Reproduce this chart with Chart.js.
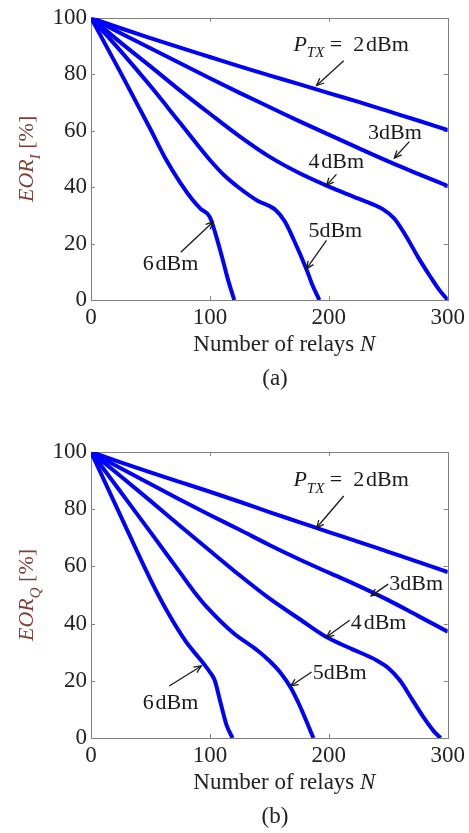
<!DOCTYPE html>
<html>
<head>
<meta charset="utf-8">
<script src="https://cdn.jsdelivr.net/npm/chart.js@4.4.1/dist/chart.umd.min.js"></script>
<style>
  html, body { margin: 0; padding: 0; background: #fff; }
  #wrap { position: relative; width: 469px; height: 833px; }
  canvas { position: absolute; left: 0; }
</style>
</head>
<body>
<div id="wrap">
  <canvas id="panelI" width="469" height="400" style="top:0"></canvas>
  <canvas id="panelQ" width="469" height="413" style="top:420px"></canvas>
</div>
<script>
// ---- Panel (a): EOR_I versus number of relays ----
const nI2   = [0, 25, 50, 75, 100, 125, 150, 175, 200, 225, 250, 275, 300];
const eorI2 = [100, 96.3, 92.8, 89.4, 86.1, 82.8, 79.6, 76.5, 73.3, 70.2, 66.9, 63.6, 60.2];
const nI3   = [0, 25, 50, 75, 100, 125, 150, 175, 200, 225, 250, 275, 300];
const eorI3 = [100, 94.5, 89.2, 83.9, 78.6, 73.4, 68.4, 63.4, 58.6, 53.8, 49.1, 44.7, 40.4];
const nI4   = [0, 25, 50, 75, 100, 125, 150, 175, 200, 225, 245, 255, 265, 275, 285, 293, 300];
const eorI4 = [100, 91.2, 82.8, 74.2, 66, 58, 50.8, 45, 40.2, 35.9, 32.3, 28.9, 22.6, 15.2, 8.5, 3.5, 0];
const nI5   = [0, 25, 50, 75, 100, 112, 125, 140, 155, 163, 170, 181, 186, 192];
const eorI5 = [100, 88.2, 75.8, 62.7, 49.6, 44.2, 39.6, 35.2, 32, 27.8, 21.8, 11.1, 5.5, 0];
const nI6   = [0, 25, 50, 62, 75, 85, 92, 100, 105, 110, 115, 120.5];
const eorI6 = [100, 80.5, 60.5, 50.6, 41.6, 35.7, 32.4, 29.4, 23, 15.5, 7.5, 0];

// ---- Panel (b): EOR_Q versus number of relays ----
const nQ2   = [0, 25, 50, 75, 100, 125, 150, 175, 200, 225, 250, 275, 300];
const eorQ2 = [100, 96.4, 92.9, 89.5, 86.1, 82.6, 79, 75.5, 72, 68.6, 65.1, 61.6, 58];
const nQ3   = [0, 25, 50, 75, 100, 125, 150, 175, 200, 225, 250, 275, 300];
const eorQ3 = [100, 94.3, 88.8, 83.3, 78, 72.8, 67.5, 62.5, 57.8, 53.2, 48.2, 42.7, 37.2];
const nQ4   = [0, 25, 50, 75, 100, 125, 150, 175, 198, 220, 240, 250, 260, 270, 280, 288, 294];
const eorQ4 = [100, 91.5, 82.9, 74.1, 65.5, 56.9, 48.8, 41.7, 35.3, 31, 27.2, 24.5, 20, 13.5, 7, 2.5, 0];
const nQ5   = [0, 25, 50, 75, 87, 100, 120, 140, 150, 160, 168, 175, 181, 187];
const eorQ5 = [100, 86, 72, 57.8, 51, 44.6, 36.6, 30.6, 27, 22.5, 17.6, 11.8, 6, 0];
const nQ6   = [0, 25, 50, 65, 80, 90, 96, 100, 104, 109, 114, 119];
const eorQ6 = [100, 77.6, 55.4, 43.6, 33.6, 28.4, 25.3, 23, 20.2, 12.2, 4.5, 0];

// Axis ranges and tick steps
const xRange = [0, 300], xStep = 100;
const yRange = [0, 100], yStep = 20;

// Curve labels with arrows, placed in data units: text anchor, arrow tail, arrow head
const notesI = [
  { parts: [{ t: 'P', i: 1 }, { t: 'TX', i: 1, s: 1 }, { t: ' =  2\u200AdBm' }], at: [170.2, 88.3], from: [212.5, 84.8], to: [189.7, 76.0] },
  { parts: [{ t: '3dBm' }],        at: [232.9, 57.1], from: [267.7, 56.1], to: [255.1, 50.3] },
  { parts: [{ t: '4\u200AdBm' }],  at: [182.8, 46.8], from: [206.4, 44.5], to: [198.0, 40.6] },
  { parts: [{ t: '5dBm' }],        at: [182.8, 22.2], from: [198.0, 21.1], to: [181.3, 11.1] },
  { parts: [{ t: '6\u200AdBm' }],  at: [43.5, 10.5],  from: [75.5, 16.9],  to: [102.8, 27.7] }
];
const notesQ = [
  { parts: [{ t: 'P', i: 1 }, { t: 'TX', i: 1, s: 1 }, { t: ' =  2\u200AdBm' }], at: [170.2, 88.1], from: [212.5, 84.6], to: [189.7, 73.5] },
  { parts: [{ t: '3dBm' }],        at: [250.9, 51.6], from: [249.9, 53.8], to: [235.6, 49.7] },
  { parts: [{ t: '4\u200AdBm' }],  at: [218.5, 38.2], from: [217.5, 41.2], to: [198.0, 35.3] },
  { parts: [{ t: '5dBm' }],        at: [186.5, 20.5], from: [185.5, 23.1], to: [168.0, 18.2] },
  { parts: [{ t: '6\u200AdBm' }],  at: [43.5, 10.2],  from: [65.8, 18.2],  to: [92.8, 25.2] }
];

const SERIF = "'Liberation Serif', 'Times New Roman', serif";
const fontStr = (size, italic) => (italic ? 'italic ' : '') + size + 'px ' + SERIF;

function richWidth(ctx, parts, size) {
  let w = 0;
  for (const p of parts) {
    ctx.font = fontStr(p.s ? Math.round(size * 0.66) : size, p.i);
    w += ctx.measureText(p.t).width;
  }
  return w;
}
function drawRich(ctx, x, y, parts, size) {
  let cx = x;
  for (const p of parts) {
    const sz = p.s ? Math.round(size * 0.66) : size;
    ctx.font = fontStr(sz, p.i);
    ctx.fillText(p.t, cx, y + (p.s ? size * 0.3 : 0));
    cx += ctx.measureText(p.t).width;
  }
}
function drawArrow(ctx, x1, y1, x2, y2) {
  ctx.beginPath(); ctx.moveTo(x1, y1); ctx.lineTo(x2, y2); ctx.stroke();
  const ang = Math.atan2(y2 - y1, x2 - x1), L = 8, spread = 0.42;
  ctx.beginPath();
  ctx.moveTo(x2 - L * Math.cos(ang - spread), y2 - L * Math.sin(ang - spread));
  ctx.lineTo(x2, y2);
  ctx.lineTo(x2 - L * Math.cos(ang + spread), y2 - L * Math.sin(ang + spread));
  ctx.stroke();
}

// Boxed axes with inward tick marks, axis titles, curve notes and panel tag
const framePlugin = {
  id: 'boxFrame',
  beforeDatasetsDraw(chart) {
    const { ctx, chartArea: a, scales: { x, y } } = chart;
    ctx.save();
    ctx.strokeStyle = '#808080';
    ctx.lineWidth = 1;
    ctx.strokeRect(Math.round(a.left) + 0.5, Math.round(a.top) + 0.5,
                   Math.round(a.right - a.left), Math.round(a.bottom - a.top));
    const tick = 4;
    ctx.beginPath();
    for (let v = xRange[0] + xStep; v < xRange[1]; v += xStep) {
      const px = Math.round(x.getPixelForValue(v)) + 0.5;
      ctx.moveTo(px, a.bottom); ctx.lineTo(px, a.bottom - tick);
      ctx.moveTo(px, a.top); ctx.lineTo(px, a.top + tick);
    }
    for (let v = yRange[0] + yStep; v < yRange[1]; v += yStep) {
      const py = Math.round(y.getPixelForValue(v)) + 0.5;
      ctx.moveTo(a.left, py); ctx.lineTo(a.left + tick, py);
      ctx.moveTo(a.right, py); ctx.lineTo(a.right - tick, py);
    }
    ctx.stroke();
    ctx.restore();
  },
  afterDraw(chart, args, opts) {
    const { ctx, chartArea: a, scales: { x, y } } = chart;
    ctx.save();
    ctx.textBaseline = 'alphabetic';
    ctx.textAlign = 'left';

    // curve notes
    ctx.fillStyle = '#1a1a1a';
    ctx.strokeStyle = '#1a1a1a';
    ctx.lineWidth = 1.3;
    for (const n of opts.notes) {
      drawRich(ctx, x.getPixelForValue(n.at[0]), y.getPixelForValue(n.at[1]), n.parts, 22);
      drawArrow(ctx, x.getPixelForValue(n.from[0]), y.getPixelForValue(n.from[1]),
                     x.getPixelForValue(n.to[0]), y.getPixelForValue(n.to[1]));
    }

    // x-axis title
    const xt = [{ t: 'Number of relays ' }, { t: 'N', i: 1 }];
    const cx = (a.left + a.right) / 2 + 15;
    ctx.fillStyle = '#222';
    drawRich(ctx, cx - richWidth(ctx, xt, 23) / 2, a.bottom + 51, xt, 23);

    // panel tag
    ctx.font = fontStr(23, false);
    ctx.textAlign = 'center';
    ctx.fillText(opts.tag, 275, a.bottom + 85);
    ctx.textAlign = 'left';

    // y-axis title, rotated
    const yt = [{ t: 'EOR', i: 1 }, { t: opts.sub, i: 1, s: 1 }, { t: ' [%]' }];
    const w = richWidth(ctx, yt, 22);
    ctx.translate(33, (a.top + a.bottom) / 2);
    ctx.rotate(-Math.PI / 2);
    ctx.fillStyle = '#7f3f35';
    drawRich(ctx, -w / 2, 0, yt, 22);
    ctx.restore();
  }
};

const toXY = (ns, vs) => ns.map((n, i) => ({ x: n, y: vs[i] }));

function makePanel(id, series, cfg) {
  return new Chart(document.getElementById(id), {
    type: 'line',
    data: {
      datasets: series.map(s => ({
        label: s.label,
        data: toXY(s.n, s.v),
        borderColor: '#0000ff',
        borderWidth: 4,
        pointRadius: 0,
        cubicInterpolationMode: 'monotone',
        fill: false
      }))
    },
    options: {
      responsive: false,
      animation: false,
      events: [],
      layout: { padding: { top: cfg.top, right: 19, left: 0, bottom: 0 } },
      plugins: {
        legend: { display: false },
        tooltip: { enabled: false },
        boxFrame: { notes: cfg.notes, sub: cfg.sub, tag: cfg.tag }
      },
      scales: {
        x: {
          type: 'linear', min: xRange[0], max: xRange[1],
          grid: { display: false, drawTicks: false },
          border: { display: false },
          ticks: { stepSize: xStep, padding: 4, color: '#222', maxRotation: 0,
                   font: { family: SERIF, size: 23 } },
          afterFit: s => { s.height = cfg.xh; }
        },
        y: {
          type: 'linear', min: yRange[0], max: yRange[1],
          grid: { display: false, drawTicks: false },
          border: { display: false },
          ticks: { stepSize: yStep, padding: 4, color: '#222',
                   font: { family: SERIF, size: 23 } },
          afterFit: s => { s.width = 91; }
        }
      }
    },
    plugins: [framePlugin]
  });
}

makePanel('panelI', [
  { label: '2 dBm', n: nI2, v: eorI2 },
  { label: '3 dBm', n: nI3, v: eorI3 },
  { label: '4 dBm', n: nI4, v: eorI4 },
  { label: '5 dBm', n: nI5, v: eorI5 },
  { label: '6 dBm', n: nI6, v: eorI6 }
], { top: 15, xh: 100, notes: notesI, sub: 'I', tag: '(a)' });

makePanel('panelQ', [
  { label: '2 dBm', n: nQ2, v: eorQ2 },
  { label: '3 dBm', n: nQ3, v: eorQ3 },
  { label: '4 dBm', n: nQ4, v: eorQ4 },
  { label: '5 dBm', n: nQ5, v: eorQ5 },
  { label: '6 dBm', n: nQ6, v: eorQ6 }
], { top: 32, xh: 95, notes: notesQ, sub: 'Q', tag: '(b)' });
</script>
</body>
</html>
